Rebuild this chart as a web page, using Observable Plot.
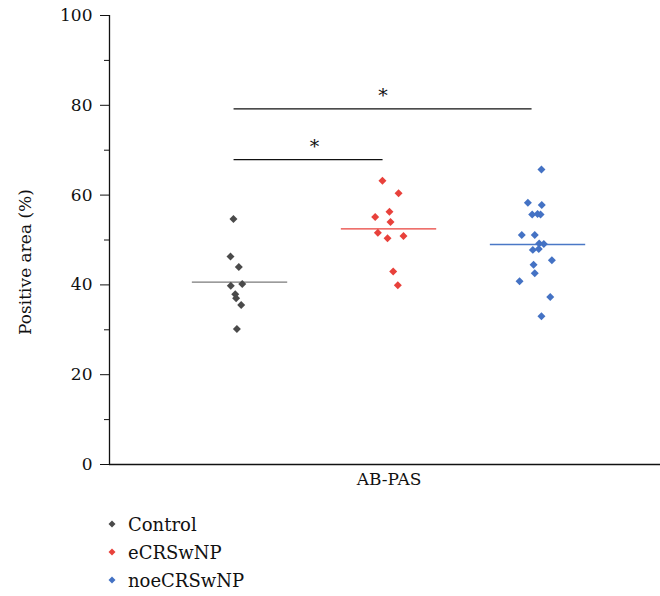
<!DOCTYPE html>
<html><head><meta charset="utf-8">
<script src="https://cdn.jsdelivr.net/npm/d3@7"></script>
<script src="https://cdn.jsdelivr.net/npm/@observablehq/plot@0.6"></script>
<style>
body{margin:0;background:#fff;}
*{font-family:"DejaVu Serif","Liberation Serif","Times New Roman",serif !important;}
#chart svg{display:block;}
#legend{margin-top:10px;padding-left:107px;font-size:18px;color:#111;}
.row{display:flex;align-items:center;height:28px;}
.row svg{margin-right:11px;}
</style></head><body>
<div id="chart"></div>
<div id="legend"></div>
<script>
const groups = ["Control", "eCRSwNP", "noeCRSwNP"];
const groupPos = [1, 2, 3];
const pointColors = ["#4a4a4a", "#e8413b", "#4472c4"];
const meanColors = ["#7a7a7a", "#e8413b", "#4a78c6"];

const controlX = [0.956, 0.936, 0.992, 0.938, 1.015, 0.968, 0.974, 1.008, 0.979];
const controlY = [54.7, 46.3, 44.0, 39.8, 40.2, 37.9, 37.0, 35.5, 30.2];
const eX = [1.956, 2.064, 2.003, 1.907, 2.010, 1.925, 1.990, 2.097, 2.028, 2.059];
const eY = [63.2, 60.4, 56.3, 55.1, 54.0, 51.6, 50.4, 50.9, 43.0, 39.9];
const noeX = [3.023, 2.932, 3.025, 2.961, 2.997, 3.017, 2.891, 2.978, 3.008, 3.039, 2.965, 3.005, 3.093, 2.970, 2.978, 2.876, 3.082, 3.023];
const noeY = [65.7, 58.3, 57.8, 55.7, 55.8, 55.7, 51.1, 51.1, 49.2, 49.1, 47.8, 48.0, 45.5, 44.5, 42.6, 40.8, 37.3, 33.0];
const means = [40.6, 52.5, 49.0];

const bracketFrom = [0.96, 0.96];
const bracketTo = [1.96, 2.96];
const bracketY = [67.9, 79.2];
const bracketStarX = [1.50, 1.96];
const bracketLabel = ["*", "*"];

const yTicks = [0, 20, 40, 60, 80, 100];
const yMinorTicks = [10, 30, 50, 70, 90];
const xTickLabel = "AB-PAS";
const yLabel = "Positive area (%)";

const points = [
  ...controlX.map((x, i) => ({group: groups[0], x, y: controlY[i]})),
  ...eX.map((x, i) => ({group: groups[1], x, y: eY[i]})),
  ...noeX.map((x, i) => ({group: groups[2], x, y: noeY[i]}))
];
const meanRows = groups.map((g, i) => ({group: g, pos: groupPos[i], mean: means[i]}));
const brackets = bracketY.map((y, i) => ({x1: bracketFrom[i], x2: bracketTo[i], y, sx: bracketStarX[i], label: bracketLabel[i]}));

const half = 0.32;
const serif = "'DejaVu Serif', 'Liberation Serif', serif";
const plot = Plot.plot({
  width: 660,
  height: 500,
  marginLeft: 109,
  marginRight: 0,
  marginTop: 15,
  marginBottom: 36,
  style: {fontSize: "17px", fontFamily: serif, color: "#111", background: "#fff"},
  x: {type: "linear", domain: [0.124, 3.822], axis: null},
  y: {domain: [0, 100], axis: null},
  color: {domain: groups, range: pointColors},
  marks: [
    Plot.axisY({ticks: yMinorTicks, tickSize: 5, tickFormat: () => "", stroke: "#111"}),
    Plot.axisY({ticks: yTicks, tickSize: 9, tickPadding: 8, tickFormat: d => d, label: null, stroke: "#111", fontSize: 17, fontFamily: serif}),
    Plot.axisX({ticks: [groupPos[1]], tickSize: 0, tickPadding: 8, tickFormat: () => xTickLabel, label: null, fontSize: 17, fontFamily: serif}),
    Plot.ruleX([0.124], {y1: 0, y2: 100, stroke: "#111", strokeWidth: 1.3}),
    Plot.ruleY([0], {stroke: "#111", strokeWidth: 1.5}),
    Plot.text([yLabel], {frameAnchor: "left", dx: -84, dy: 22, rotate: -90, textAnchor: "middle", text: d => d, fontSize: 17, fontFamily: serif, fill: "#111"}),
    Plot.ruleY(meanRows, {x1: d => d.pos - half, x2: d => d.pos + half, y: "mean", stroke: (d, i) => meanColors[i], strokeWidth: 1.3}),
    Plot.ruleY(brackets, {x1: "x1", x2: "x2", y: "y", stroke: "#111", strokeWidth: 1.3}),
    Plot.text(brackets, {x: "sx", y: "y", text: "label", dy: -13, fontSize: 19, fontFamily: serif, fill: "#111"}),
    Plot.dot(points, {x: "x", y: "y", symbol: "diamond2", r: 3.6, fill: "group", stroke: "none"})
  ]
});
document.getElementById("chart").appendChild(plot);

const legend = document.getElementById("legend");
groups.forEach((g, i) => {
  const row = document.createElement("div");
  row.className = "row";
  row.innerHTML = `<svg width="10" height="10" viewBox="-5 -5 10 10"><path d="M0,-3.5L3.5,0L0,3.5L-3.5,0Z" fill="${pointColors[i]}"/></svg><span>${g}</span>`;
  legend.appendChild(row);
});
</script>
</body></html>
